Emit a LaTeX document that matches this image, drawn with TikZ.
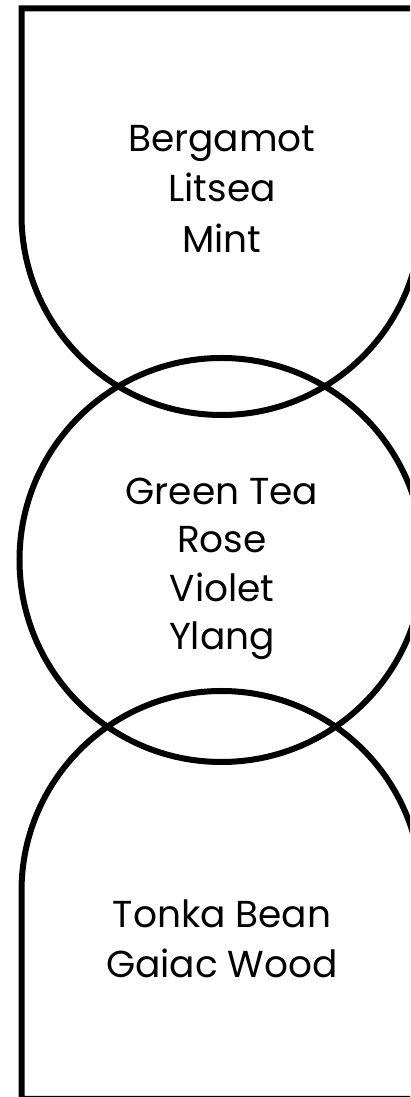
\documentclass[tikz,border=0pt]{standalone}
\usepackage{fontspec}
\setmainfont{Poppins}
\begin{document}
\begin{tikzpicture}[x=1pt,y=1pt,
  outline/.style={draw=black,line width=6pt,line join=miter},
  lbl/.style={anchor=base,inner sep=0pt,font=\fontsize{37.5}{50}\selectfont}]
\useasboundingbox (0,0) rectangle (410,1097);
\clip (0,0) rectangle (410,1097);
% top shape
\draw[outline] (421.5,1088.7) -- (21.5,1088.7) -- (21.5,882)
  arc[start angle=180,end angle=360,radius=200] -- cycle;
% middle circle
\draw[outline] (221.5,537) circle[radius=202];
% bottom shape
\draw[outline] (21.5,-2) -- (21.5,206)
  arc[start angle=180,end angle=0,radius=200] -- (421.5,-2) -- cycle;
% labels
\node[lbl] (t1) at (222,{1097-152}) {Bergamot};
\node[lbl] (t2) at (222,{1097-202}) {Litsea};
\node[lbl] (t3) at (222,{1097-253}) {Mint};
\node[lbl] (m1) at (222,{1097-505}) {Green Tea};
\node[lbl] (m2) at (222,{1097-553}) {Rose};
\node[lbl] (m3) at (222,{1097-602}) {Violet};
\node[lbl] (m4) at (222,{1097-650}) {Ylang};
\node[lbl] (b1) at (222,{1097-928}) {Tonka Bean};
\node[lbl] (b2) at (222,{1097-978}) {Gaiac Wood};
\end{tikzpicture}
\end{document}
